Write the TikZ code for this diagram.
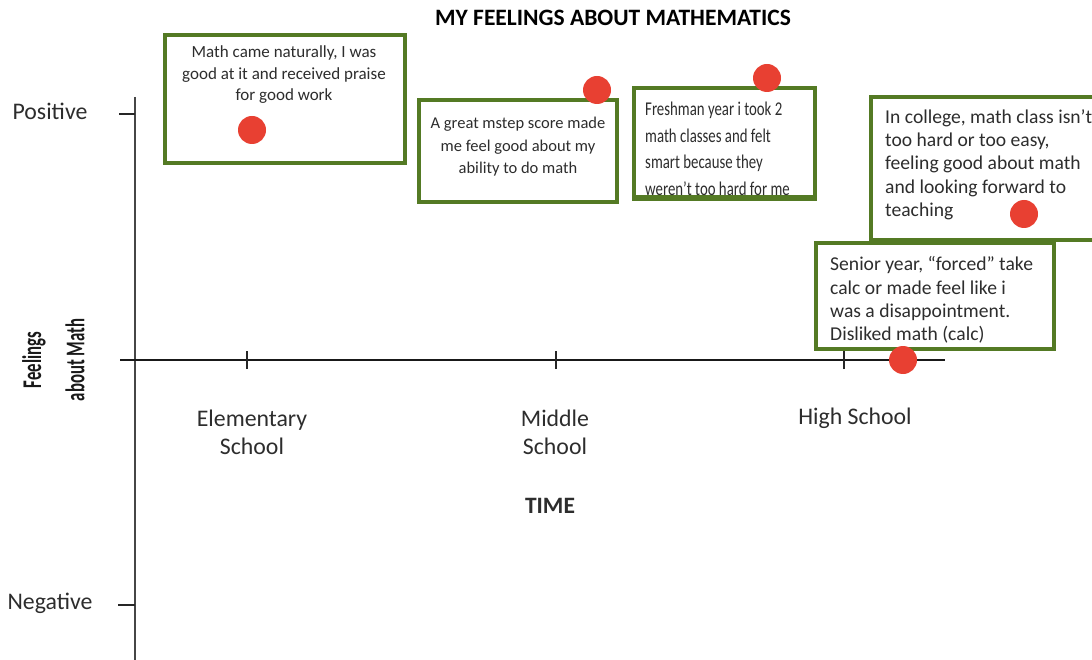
\documentclass[tikz,border=0pt]{standalone}
\usepackage{fontspec}
\setmainfont{Carlito}
\newfontfamily\narrowfont[FakeStretch=0.76]{Carlito}
\newfontfamily\squeezefont[FakeStretch=0.62]{Carlito}
\definecolor{boxgreen}{RGB}{84,122,36}
\definecolor{dotred}{RGB}{232,64,50}
\definecolor{ink}{RGB}{45,45,45}
\definecolor{axisgray}{RGB}{70,70,70}
\tikzset{
  box/.style={draw=boxgreen, line width=3.6pt, fill=white, rectangle, inner sep=0pt},
  dot/.style={circle, fill=dotred, minimum size=28pt, inner sep=0pt},
  note/.style={text=ink, inner sep=0pt},
  bignote/.style={text=ink, inner sep=0pt, font=\fontsize{19.6}{23.3}\selectfont, align=left},
  axlabel/.style={text=ink, inner sep=0pt, font=\fontsize{23.8}{28}\selectfont, align=center},
  tick/.style={line width=2.6pt, draw=black!85},
  sidelabel/.style={inner sep=0pt, rotate=90, text=black!90, font=\squeezefont\bfseries\fontsize{27}{29}\selectfont},
}
\begin{document}
\begin{tikzpicture}[x=1pt, y=-1pt]
\useasboundingbox (0,0) rectangle (1092,660);
\clip (0,0) rectangle (1092,660);

% title
\node[inner sep=0pt, font=\fontsize{23.5}{26}\selectfont\bfseries] (title) at (613,18) {MY FEELINGS ABOUT MATHEMATICS};

% axes
\coordinate (ytop) at (135,97);
\coordinate (ybot) at (135,662);
\coordinate (xleft) at (120,360);
\coordinate (xright) at (945,360);
\draw[line width=2.8pt, draw=axisgray] (ytop) -- (ybot);
\draw[line width=2.4pt, draw=black!90] (xleft) -- (xright);

% vertical ticks and labels
\coordinate (pos) at (135,114);
\coordinate (neg) at (135,605);
\draw[tick] (pos) -- ++(-16,0) coordinate (posend);
\draw[tick] (neg) -- ++(-17,0) coordinate (negend);
\node[axlabel] (positive) at (50,111) {Positive};
\node[axlabel] (negative) at (50,603) {Negative};

% rotated axis title
\node[sidelabel] (feel1) at (34,360) {Feelings};
\node[sidelabel] (feel2) at (75,360) {about Math};

% horizontal ticks
\coordinate (t1) at (247,360);
\coordinate (t2) at (556,360);
\coordinate (t3) at (844,360);
\foreach \t in {t1,t2,t3} \draw[tick] ([yshift=-9pt]\t) -- ([yshift=9pt]\t);

\node[axlabel] (elem) at (252,432) {Elementary\\School};
\node[axlabel] (mid) at (555,432) {Middle\\School};
\node[axlabel] (high) at (855,418) {High School};
\node[axlabel, font=\fontsize{23.5}{26}\selectfont\bfseries] (time) at (550,506) {TIME};

% elementary school
\node[box, minimum width=240pt, minimum height=128pt] (b1) at (285,99) {};
\node[note, align=center, font=\fontsize{17}{21.5}\selectfont] (n1) at (284,75) {Math came naturally, I was\\good at it and received praise\\for good work};
\node[dot] (d1) at (252,130) {};

% middle school
\node[box, minimum width=198pt, minimum height=102pt] (b2) at (518,151) {};
\node[note, align=center, font=\fontsize{16.5}{22.5}\selectfont] (n2) at (518,147) {A great mstep score made\\me feel good about my\\ability to do math};
\node[dot] (d2) at (597,90) {};

% freshman year
\node[box, minimum width=181pt, minimum height=109pt] (b3) at (724.5,142.5) {};
\node[note, align=left, anchor=west, font=\narrowfont\fontsize{19.5}{26.5}\selectfont] (n3) at (645,149) {Freshman year i took 2\\math classes and felt\\smart because they\\weren’t too hard for me};
\draw[draw=boxgreen, line width=3.6pt] (b3.south west) -- (b3.south east);
\node[dot] (d3) at (767,78) {};

% college
\node[box, minimum width=229pt, minimum height=143pt] (b4) at (985.5,168.5) {};
\node[bignote, anchor=west] (n4) at (885,164.5) {In college, math class isn’t\\too hard or too easy,\\feeling good about math\\and looking forward to\\teaching};
\node[dot] (d4) at (1024,214) {};

% senior year
\node[box, minimum width=238pt, minimum height=106pt] (b5) at (935,296) {};
\node[bignote, anchor=west] (n5) at (830,300) {Senior year, “forced” take\\calc or made feel like i\\was a disappointment.\\Disliked math (calc)};
\node[dot] (d5) at (903,360) {};
\end{tikzpicture}
\end{document}
